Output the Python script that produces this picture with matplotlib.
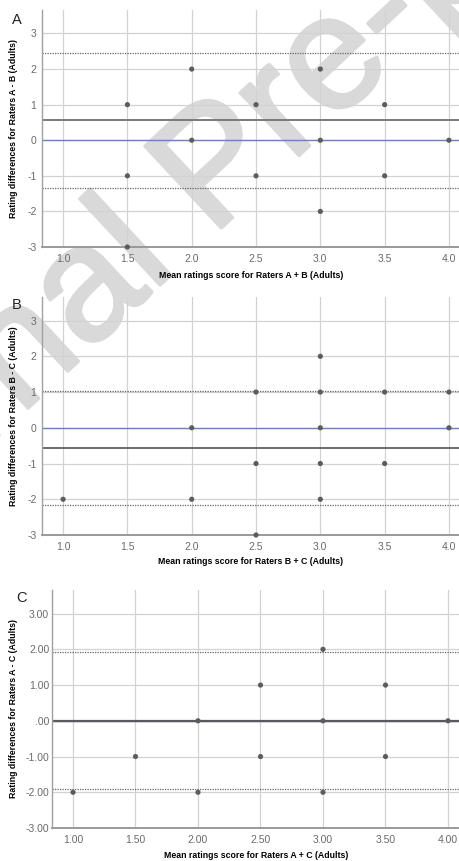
import matplotlib
matplotlib.use("Agg")
import matplotlib.pyplot as plt
import matplotlib.transforms as mtransforms
import matplotlib.patheffects as pe

plt.rcParams['font.family'] = ['Liberation Sans', 'DejaVu Sans']

# panel A: raters A vs B
xA = [1.5, 1.5, 1.5, 2.0, 2.0, 2.5, 2.5, 3.0, 3.0, 3.0, 3.5, 3.5, 4.0]
yA = [1, -1, -3, 2, 0, 1, -1, 2, 0, -2, 1, -1, 0]
meanA = 0.56
loaA = [2.46, -1.34]

# panel B: raters B vs C
xB = [1.0, 2.0, 2.0, 2.5, 2.5, 2.5, 3.0, 3.0, 3.0, 3.0, 3.0, 3.5, 3.5, 4.0, 4.0]
yB = [-2, 0, -2, 1, -1, -3, 2, 1, 0, -1, -2, 1, -1, 1, 0]
meanB = -0.57
loaB = [1.03, -2.17]

# panel C: raters A vs C
xC = [1.0, 1.5, 2.0, 2.0, 2.5, 2.5, 3.0, 3.0, 3.0, 3.5, 3.5, 4.0]
yC = [-2, -1, 0, -2, 1, -1, 2, 0, -2, 1, -1, 0]
meanC = 0.0
loaC = [1.92, -1.92]

xticks = [1.0, 1.5, 2.0, 2.5, 3.0, 3.5, 4.0]
yticks = [3, 2, 1, 0, -1, -2, -3]
xlabels_ab = ['1.0', '1.5', '2.0', '2.5', '3.0', '3.5', '4.0']
ylabels_ab = ['3', '2', '1', '0', '-1', '-2', '-3']
xlabels_c = ['1.00', '1.50', '2.00', '2.50', '3.00', '3.50', '4.00']
ylabels_c = ['3.00', '2.00', '1.00', '.00', '-1.00', '-2.00', '-3.00']

W, H = 460, 861
fig = plt.figure(figsize=(W / 100, H / 100), dpi=100)


def box(l, t, r, b):
    return [l / W, 1 - b / H, (r - l) / W, (b - t) / H]


panels = [
    dict(rect=box(42, 10, 460, 247), x=xA, y=yA, mean=meanA, loa=loaA,
         xl=xlabels_ab, yl=ylabels_ab, mean_c='#7a7a7a', mean_lw=1.4,
         xlab='Mean ratings score for Raters A + B (Adults)',
         ylab='Rating differences for Raters A - B (Adults)',
         letter='A', lpos=(12, 20), xlim=(0.836, 4.086), pad=4, xly=270.5),
    dict(rect=box(42, 297, 460, 535), x=xB, y=yB, mean=meanB, loa=loaB,
         xl=xlabels_ab, yl=ylabels_ab, mean_c='#444444', mean_lw=1.1,
         xlab='Mean ratings score for Raters B + C (Adults)',
         ylab='Rating differences for Raters B - C (Adults)',
         letter='B', lpos=(12, 305), xlim=(0.836, 4.086), pad=4, xly=557.5),
    dict(rect=box(52, 590, 460, 828), x=xC, y=yC, mean=meanC, loa=loaC,
         xl=xlabels_c, yl=ylabels_c, mean_c='#5a5a5a', mean_lw=1.6,
         xlab='Mean ratings score for Raters A + C (Adults)',
         ylab='Rating differences for Raters A - C (Adults)',
         letter='C', lpos=(16, 598), xlim=(0.832, 4.096), pad=2, xly=850.5),
]

for p in panels:
    ax = fig.add_axes(p['rect'])
    ax.set_facecolor('none')
    ax.set_xlim(*p['xlim'])
    ax.set_ylim(-3, 3.66)
    ax.set_xticks(xticks)
    ax.set_xticklabels(p['xl'])
    ax.set_yticks(yticks)
    ax.set_yticklabels(p['yl'])
    ax.tick_params(axis='x', length=0, labelsize=7.5, labelcolor='#6a6a6a', pad=5)
    ax.tick_params(axis='y', length=0, labelsize=7.5, labelcolor='#6a6a6a', pad=p['pad'])
    ax.grid(True, color='#d2d2d2', lw=0.9)
    ax.set_axisbelow(True)
    for s in ['top', 'right']:
        ax.spines[s].set_visible(False)
    ax.spines['left'].set_color('#a0a0a0')
    ax.spines['left'].set_linewidth(1.0)
    ax.spines['bottom'].set_color('#999999')
    ax.spines['bottom'].set_linewidth(1.4)

    ax.axhline(0, color='#7080bd', lw=1.0, zorder=2)
    ax.axhline(p['mean'], color=p['mean_c'], lw=p['mean_lw'], zorder=2)
    for v in p['loa']:
        ax.axhline(v, color='#666666', lw=0.9, ls=(0, (1, 1)), zorder=2)
    ax.scatter(p['x'], p['y'], s=14, color='#5c5c5c', zorder=3,
               edgecolors='none', clip_on=False)

    ax.set_xlabel(p['xlab'], fontsize=6.3, fontweight='bold')
    ax.set_ylabel(p['ylab'], fontsize=6.3, fontweight='bold')
    trx = mtransforms.blended_transform_factory(ax.transAxes, fig.transFigure)
    ax.xaxis.set_label_coords(0.5, 1 - p['xly'] / H, transform=trx)
    tr = mtransforms.blended_transform_factory(fig.transFigure, ax.transAxes)
    ax.yaxis.set_label_coords(18 / W, 0.5, transform=tr)
    lx, ly = p['lpos']
    fig.text(lx / W, 1 - ly / H, p['letter'], fontsize=10.5, color='#222222',
             ha='left', va='center')

# watermark, drawn underneath the transparent axes
wm = fig.text(248 / W, 1 - 203 / H, 'Journal Pre-proof', fontsize=117,
              color='#d9d9d9', rotation=43, ha='center', va='baseline',
              rotation_mode='anchor', zorder=-1)
wm.set_path_effects([pe.Stroke(linewidth=2.5, foreground='#d9d9d9'), pe.Normal()])

fig.savefig('out.png', dpi=100)
